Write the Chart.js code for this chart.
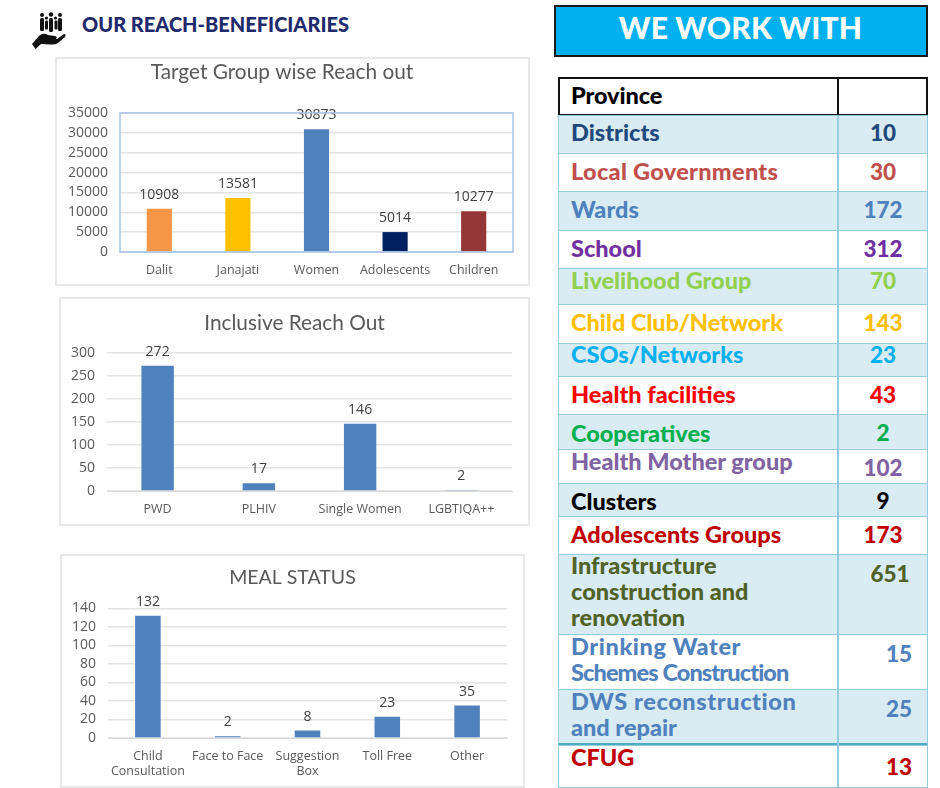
<!DOCTYPE html>
<html>
<head>
<meta charset="utf-8">
<title>Our Reach</title>
<script src="https://cdn.jsdelivr.net/npm/chart.js@4/dist/chart.umd.min.js"></script>
<style>
  html, body { margin: 0; padding: 0; background: #fff; }
  body { width: 940px; height: 788px; position: relative; overflow: hidden; font-family: Lato, sans-serif; }
  .frame { position: absolute; border: 2px solid #e8e8e8; box-sizing: border-box; background: #fff; }
  .frame canvas { display: block; }
  #icon { position: absolute; left: 31px; top: 11px; }
  #heading { position: absolute; left: 82px; top: 12px; font-weight: 900; font-size: 20px; line-height: 24px; color: #1f2a6b; white-space: nowrap; }
  #banner { position: absolute; left: 554px; top: 5px; width: 374px; height: 52px; box-sizing: border-box; background: #00b0f0; border: 2px solid #1a1a1a; color: #fff; font-weight: 900; font-size: 30px; letter-spacing: 0.2px; line-height: 41px; text-align: center; padding-right: 1px; }
  #table { position: absolute; left: 0; top: 0; width: 940px; height: 788px; }
  .row { position: absolute; left: 558px; width: 370px; box-sizing: border-box; }
  .cell { position: absolute; font-weight: 900; font-size: 23.5px; line-height: 26px; white-space: nowrap; }
  .num { font-size: 22.5px; }
</style>
</head>
<body>

<svg id="icon" width="36" height="40" viewBox="0 0 36 40">
  <g fill="#111">
    <circle cx="11" cy="4" r="2"/><circle cx="20" cy="3.5" r="2.2"/><circle cx="29" cy="4" r="2"/>
    <circle cx="15.5" cy="7" r="1.6"/><circle cx="24.5" cy="7" r="1.6"/>
    <rect x="9" y="7" width="4" height="13" rx="1.5"/><rect x="18" y="7" width="4" height="14" rx="1.5"/><rect x="27" y="7" width="4" height="13" rx="1.5"/>
    <rect x="14" y="9.5" width="3" height="9" rx="1"/><rect x="23.5" y="9.5" width="3" height="9" rx="1"/>
    <path d="M1 33 L8 25 Q12 21 17 24 L24 25 Q27 26 25 28 L17 28.5 L26 28 L33 23 Q35.5 23 34 26 L27 32 Q24 34 20 33.5 L10 33 L4.5 38 Z"/>
  </g>
</svg>
<div id="heading">OUR REACH-BENEFICIARIES</div>

<div class="frame" style="left:55px;top:57px;width:475px;height:229px"><canvas id="targetChart" width="471" height="225"></canvas></div>
<div class="frame" style="left:59px;top:297px;width:471px;height:229px"><canvas id="inclusiveChart" width="467" height="225"></canvas></div>
<div class="frame" style="left:60px;top:554px;width:465px;height:234px"><canvas id="mealChart" width="461" height="230"></canvas></div>

<div id="banner">WE WORK WITH</div>
<div id="table"></div>

<script>
// chart data
const targetLabels = ["Dalit", "Janajati", "Women", "Adolescents", "Children"];
const targetValues = [10908, 13581, 30873, 5014, 10277];
const targetColors = ["#f79646", "#ffc000", "#4f81bd", "#002060", "#953735"];

const inclusiveLabels = ["PWD", "PLHIV", "Single Women", "LGBTIQA++"];
const inclusiveValues = [272, 17, 146, 2];

const mealLabels = [["Child", "Consultation"], "Face to Face", ["Suggestion", "Box"], "Toll Free", "Other"];
const mealValues = [132, 2, 8, 23, 35];

// table data
const rowLabels = [
  ["Province"], ["Districts"], ["Local Governments"], ["Wards"], ["School"], ["Livelihood Group"],
  ["Child Club/Network"], ["CSOs/Networks"], ["Health facilities"], ["Cooperatives"], ["Health Mother group"],
  ["Clusters"], ["Adolescents Groups"], ["Infrastructure", "construction and", "renovation"],
  ["Drinking Water", "Schemes Construction"], ["DWS reconstruction", "and repair"], ["CFUG"]
];
const rowValues = ["", "10", "30", "172", "312", "70", "143", "23", "43", "2", "102", "9", "173", "651", "15", "25", "13"];

// table styling and layout
const rowColors = ["#000", "#1f497d", "#c0504d", "#4f81bd", "#7030a0", "#92d050", "#ffc000", "#00b0f0", "#ff0000",
  "#00b050", "#8064a2", "#000", "#c00000", "#4f6228", "#4f81bd", "#4f81bd", "#c00000"];
const rowEdges = [77, 115, 153, 191, 230, 268, 304, 343, 376, 414, 449, 483, 516, 554, 634, 689, 745, 787];
const labelTops = [95, 132, 171, 209, 248, 280, 322, 354, 394, 433, 461, 501, 534, 565, 646, 701, 757];
const valueTops = [96, 133, 172, 210, 249, 281, 323, 355, 395, 433, 468, 501, 535, 574, 654, 709, 767];
const valueCenters = [883, 883, 883, 883, 883, 883, 883, 883, 883, 883, 883, 883, 883, 890, 899, 899, 899];
const lineTracking = { "Schemes Construction": -0.9, "DWS reconstruction": 0.6, "Drinking Water": 0.6, "Local Governments": 0.3, "Province": -0.1 };

const table = document.getElementById("table");
rowLabels.forEach((lines, i) => {
  const row = document.createElement("div");
  row.className = "row";
  row.style.top = rowEdges[i] + "px";
  row.style.height = (rowEdges[i + 1] - rowEdges[i] + 1) + "px";
  row.style.background = (i % 2 === 1) ? "#daecf3" : "#fff";
  const line = i === 0 ? "#111" : "#93cddd";
  row.style.border = (i === 0 ? "2px" : "1.5px") + " solid " + line;
  if (i === 15) row.style.borderBottom = "3px solid #4bacc6";
  table.appendChild(row);

  const sep = document.createElement("div");
  sep.style.cssText = "position:absolute;top:" + rowEdges[i] + "px;left:837px;width:2px;background:" + line + ";height:" + (rowEdges[i + 1] - rowEdges[i] + 1) + "px";
  table.appendChild(sep);

  lines.forEach((text, k) => {
    const cell = document.createElement("div");
    cell.className = "cell";
    cell.textContent = text;
    cell.style.left = "571px";
    cell.style.color = rowColors[i];
    cell.style.letterSpacing = (lineTracking[text] || 0) + "px";
    cell.style.top = (labelTops[i] - 13 + k * 26) + "px";
    table.appendChild(cell);
  });

  const val = document.createElement("div");
  val.className = "cell num";
  val.textContent = rowValues[i];
  val.style.left = (valueCenters[i] - 40) + "px";
  val.style.width = "80px";
  val.style.textAlign = "center";
  val.style.color = rowColors[i];
  val.style.top = (valueTops[i] - 13) + "px";
  table.appendChild(val);
});

// value on top of each bar, Chart.js has no built-in data labels
const barValues = {
  id: "barValues",
  afterDatasetsDraw(chart) {
    const ctx = chart.ctx;
    const meta = chart.getDatasetMeta(0);
    ctx.save();
    ctx.font = "14px 'Open Sans'";
    ctx.fillStyle = "#404040";
    ctx.textAlign = "center";
    ctx.textBaseline = "middle";
    meta.data.forEach((bar, i) => {
      ctx.fillText(chart.data.datasets[0].data[i], bar.x, bar.y - 14);
    });
    ctx.restore();
  }
};

const plotBox = {
  id: "plotBox",
  afterDraw(chart, args, opts) {
    if (!opts.color) return;
    const a = chart.chartArea;
    chart.ctx.save();
    chart.ctx.strokeStyle = opts.color;
    chart.ctx.lineWidth = 1.5;
    chart.ctx.strokeRect(a.left, a.top, a.right - a.left, a.bottom - a.top);
    chart.ctx.restore();
  }
};

function makeBarChart(id, labels, values, colors, title, opt) {
  const scales = {
    x: {
      grid: { display: false },
      border: { color: "#d9d9d9" },
      ticks: { color: "#595959", font: { family: "Open Sans", size: 12.5, lineHeight: 1.2 }, padding: 3, maxRotation: 0, autoSkip: false },
      afterFit(scale) { scale.height = opt.xHeight; }
    },
    y: {
      min: 0,
      max: opt.max,
      grid: { color: "#e4e4e4", lineWidth: 1.5, drawTicks: false },
      border: { display: false },
      ticks: {
        stepSize: opt.step,
        autoSkip: false,
        color: "#595959",
        font: { family: "Open Sans", size: 14 },
        padding: 12,
        callback: (v) => String(v)
      },
      afterFit(scale) { scale.width = opt.left - opt.pad; }
    }
  };
  // empty axis on the right keeps the plot narrow but leaves the title centred on the canvas
  if (opt.gutter) {
    scales.y1 = {
      position: "right",
      grid: { display: false },
      border: { display: false },
      ticks: { display: false },
      afterFit(scale) { scale.width = opt.gutter; }
    };
  }
  return new Chart(document.getElementById(id).getContext("2d"), {
    type: "bar",
    data: {
      labels: labels,
      datasets: [{ data: values, backgroundColor: colors, barPercentage: 0.32, categoryPercentage: 1 }]
    },
    plugins: [barValues, plotBox],
    options: {
      responsive: false,
      animation: false,
      layout: { padding: { top: opt.top, right: opt.right, bottom: 0, left: opt.pad } },
      plugins: {
        legend: { display: false },
        tooltip: { enabled: false },
        plotBox: { color: opt.box },
        title: {
          display: true,
          text: title,
          color: "#595959",
          font: { family: "Lato", size: opt.titleSize, weight: "normal" },
          padding: { top: 0, bottom: opt.titleGap }
        }
      },
      scales: scales
    }
  });
}

makeBarChart("targetChart", targetLabels, targetValues, targetColors, "Target Group wise Reach out",
  { max: 35000, step: 5000, left: 63, pad: -6, right: 15, gutter: 0, top: 1, titleSize: 20.8, titleGap: 28, xHeight: 32, box: "#a9c4e6" });
makeBarChart("inclusiveChart", inclusiveLabels, inclusiveValues, "#4f81bd", "Inclusive Reach Out",
  { max: 300, step: 50, left: 46, pad: 0, right: 0, gutter: 16, top: 12, titleSize: 20.8, titleGap: 17, xHeight: 33, box: null });
makeBarChart("mealChart", mealLabels, mealValues, "#4f81bd", "MEAL STATUS",
  { max: 140, step: 20, left: 46, pad: 0, right: 0, gutter: 16, top: 10, titleSize: 19.5, titleGap: 19, xHeight: 48, box: null });
</script>
</body>
</html>
